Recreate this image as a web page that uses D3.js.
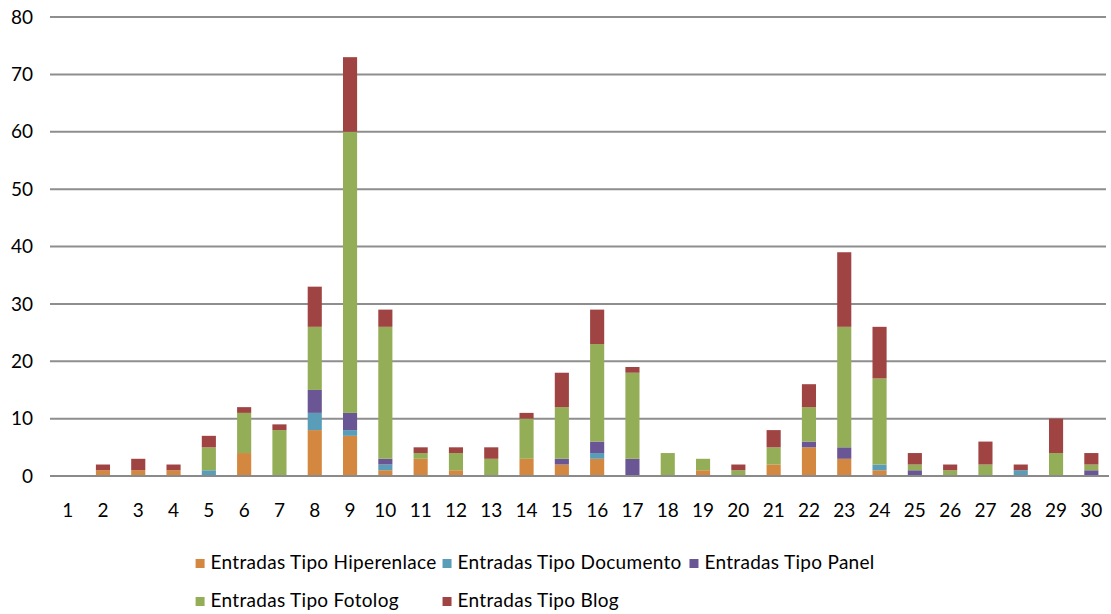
<!DOCTYPE html>
<html>
<head>
<meta charset="utf-8">
<script src="https://cdn.jsdelivr.net/npm/d3@7"></script>
<style>
  html, body { margin: 0; padding: 0; background: #fff; }
  svg { display: block; font-family: Lato, "Open Sans", sans-serif; }
</style>
</head>
<body>
<svg id="chart" width="1111" height="614"></svg>
<script>
// ---- data ----
const categories = ["1","2","3","4","5","6","7","8","9","10","11","12","13","14","15","16","17","18","19","20","21","22","23","24","25","26","27","28","29","30"];
const seriesNames = ["Entradas Tipo Hiperenlace","Entradas Tipo Documento","Entradas Tipo Panel","Entradas Tipo Fotolog","Entradas Tipo Blog"];
const hiperenlace = [0,1,1,1,0,4,0,8,7,1,3,1,0,3,2,3,0,0,1,0,2,5,3,1,0,0,0,0,0,0];
const documento   = [0,0,0,0,1,0,0,3,1,1,0,0,0,0,0,1,0,0,0,0,0,0,0,1,0,0,0,1,0,0];
const panel       = [0,0,0,0,0,0,0,4,3,1,0,0,0,0,1,2,3,0,0,0,0,1,2,0,1,0,0,0,0,1];
const fotolog     = [0,0,0,0,4,7,8,11,49,23,1,3,3,7,9,17,15,4,2,1,3,6,21,15,1,1,2,0,4,1];
const blog        = [0,1,2,1,2,1,1,7,13,3,1,1,2,1,6,6,1,0,0,1,3,4,13,9,2,1,4,1,6,2];
const yTicks = [0,10,20,30,40,50,60,70,80];
const colors = ["#D4873F","#5A9DB8","#6B5695","#94AE57","#A04443"];

// ---- build ----
const seriesValues = [hiperenlace, documento, panel, fotolog, blog];
const keys = seriesNames;
const table = categories.map((c, i) => {
  const row = { cat: c };
  keys.forEach((k, j) => row[k] = seriesValues[j][i]);
  return row;
});
const stacked = d3.stack().keys(keys)(table);

const svg = d3.select("#chart");
const plot = { left: 50, right: 1109, top: 17, bottom: 476 };

const x = d3.scaleBand().domain(categories).range([plot.left, plot.right]).paddingInner(0.6).paddingOuter(0.3);
const y = d3.scaleLinear().domain([0, 80]).range([plot.bottom, plot.top]);

// gridlines
svg.append("g").selectAll("line").data(yTicks).join("line")
  .attr("x1", plot.left).attr("x2", plot.right - 3)
  .attr("y1", d => y(d)).attr("y2", d => y(d))
  .attr("stroke", "#8e8e8e").attr("stroke-width", 2);

// y tick labels
svg.append("g").selectAll("text").data(yTicks).join("text")
  .attr("x", 33).attr("y", d => y(d)).attr("dy", "0.35em")
  .attr("text-anchor", "end").attr("font-size", 19).attr("fill", "#000")
  .text(d => d);

// bars
svg.append("g").selectAll("g").data(stacked).join("g")
  .attr("fill", (d, i) => colors[i])
  .selectAll("rect").data(d => d).join("rect")
  .attr("x", d => x(d.data.cat))
  .attr("width", x.bandwidth())
  .attr("y", d => y(d[1]))
  .attr("height", d => Math.max(0, y(d[0]) - y(d[1])));

// x axis line on top
svg.append("line")
  .attr("x1", plot.left).attr("x2", plot.right)
  .attr("y1", y(0)).attr("y2", y(0))
  .attr("stroke", "#8a8a8a").attr("stroke-width", 2);

// x labels
svg.append("g").selectAll("text").data(categories).join("text")
  .attr("x", d => x(d) + x.bandwidth() / 2).attr("y", 517)
  .attr("text-anchor", "middle").attr("font-size", 19).attr("fill", "#000")
  .text(d => d);

// legend (3-column grid)
const legend = svg.append("g");
const items = legend.selectAll("g").data(seriesNames).join("g");
items.append("rect").attr("width", 9).attr("height", 9).attr("y", -10)
  .attr("fill", (d, i) => colors[i]);
items.append("text").attr("x", 15).attr("y", 0).attr("font-size", 19)
  .attr("letter-spacing", 0.3).attr("fill", "#000")
  .text(d => d);
let maxW = 0;
items.selectAll("text").each(function () { maxW = Math.max(maxW, this.getComputedTextLength()); });
const colW = 15 + maxW + 6;
const startX = 566 - (3 * colW) / 2;
items.attr("transform", (d, i) => `translate(${startX + (i % 3) * colW},${569 + Math.floor(i / 3) * 38})`);
</script>
</body>
</html>
